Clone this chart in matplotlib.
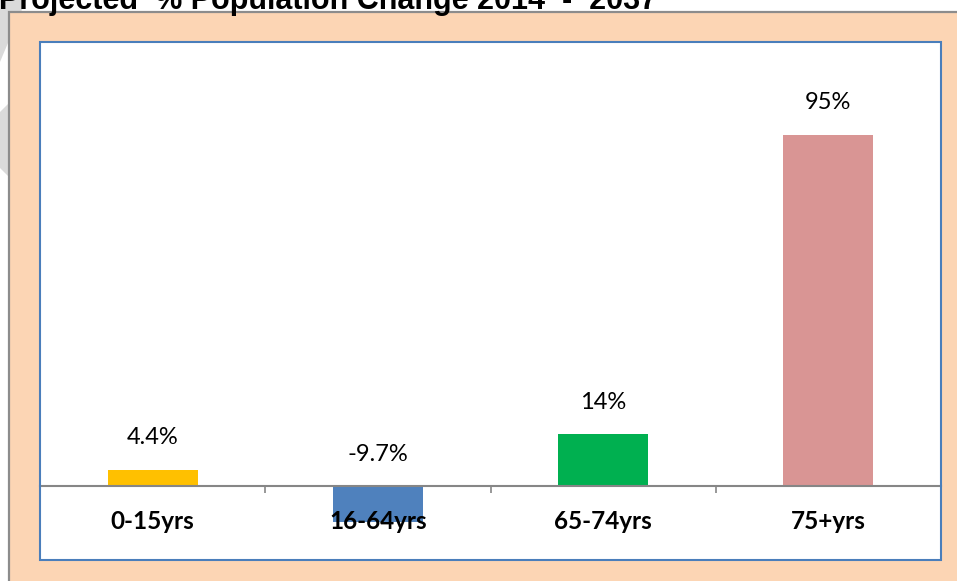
import matplotlib
matplotlib.use("Agg")
import matplotlib.pyplot as plt
from matplotlib.patches import Rectangle, Polygon

# data
groups = ["0-15yrs", "16-64yrs", "65-74yrs", "75+yrs"]
change = [4.4, -9.7, 14, 95]
labels = ["4.4%", "-9.7%", "14%", "95%"]
bar_colors = ["#FFC000", "#4F81BD", "#00B050", "#D99594"]

W, H = 957, 581
fig = plt.figure(figsize=(W / 100, H / 100), dpi=100)
fig.patch.set_facecolor("white")

# faint grey watermark shapes behind the frame (left edge)
for pts in ([(0, 0), (26, 0), (0, 62)], [(0, 112), (12, 100), (12, 180), (0, 168)]):
    fig.patches.append(Polygon([(x / W, 1 - y / H) for x, y in pts], closed=True,
                               transform=fig.transFigure, facecolor="#DADADA",
                               edgecolor="none", zorder=-3))

# peach frame
fig.patches.append(Rectangle((9 / W, -0.05), 1.2, (H - 12) / H + 0.05,
                             transform=fig.transFigure, facecolor="#FCD5B4",
                             edgecolor="#8C8C8C", linewidth=1.6, zorder=-2))

fig.text(657 / W, 1 - 9 / H, "Projected  % Population Change 2014  -  2037",
         ha="right", va="baseline", fontsize=22, fontweight="bold",
         family="Liberation Sans", color="black")

ax = fig.add_axes([40 / W, 21 / H, 901 / W, 518 / H])
ax.set_facecolor("white")

x = list(range(len(groups)))
ax.bar(x, change, width=0.4, color=bar_colors, zorder=1)

ax.set_xlim(-0.5, len(groups) - 0.5)
ax.set_ylim(-20, 120)

for xi, v, lab in zip(x, change, labels):
    ax.annotate(lab, (xi, max(v, 0)), xytext=(0, 23), textcoords="offset points",
                ha="center", va="center", fontsize=17, family="Lato", color="black")

# category axis sitting on zero
for s in ("top", "left", "right"):
    ax.spines[s].set_visible(False)
ax.spines["bottom"].set_position(("data", 0))
ax.spines["bottom"].set_color("#868686")
ax.spines["bottom"].set_linewidth(1.5)
ax.set_yticks([])
ax.set_xticks(x)
ax.set_xticklabels(groups, fontsize=17.5, fontweight="bold", family="Lato")
ax.set_xticks([i - 0.5 for i in range(len(groups) + 1)], minor=True)
ax.tick_params(axis="x", which="major", length=0, pad=17)
ax.tick_params(axis="x", which="minor", length=5, width=1.2, color="#868686")

# plot area border
ax.add_patch(Rectangle((0, 0), 1, 1, transform=ax.transAxes, fill=False,
                       edgecolor="#4A7EBB", linewidth=1.5, clip_on=False, zorder=5))

fig.savefig("out.png", dpi=100)
